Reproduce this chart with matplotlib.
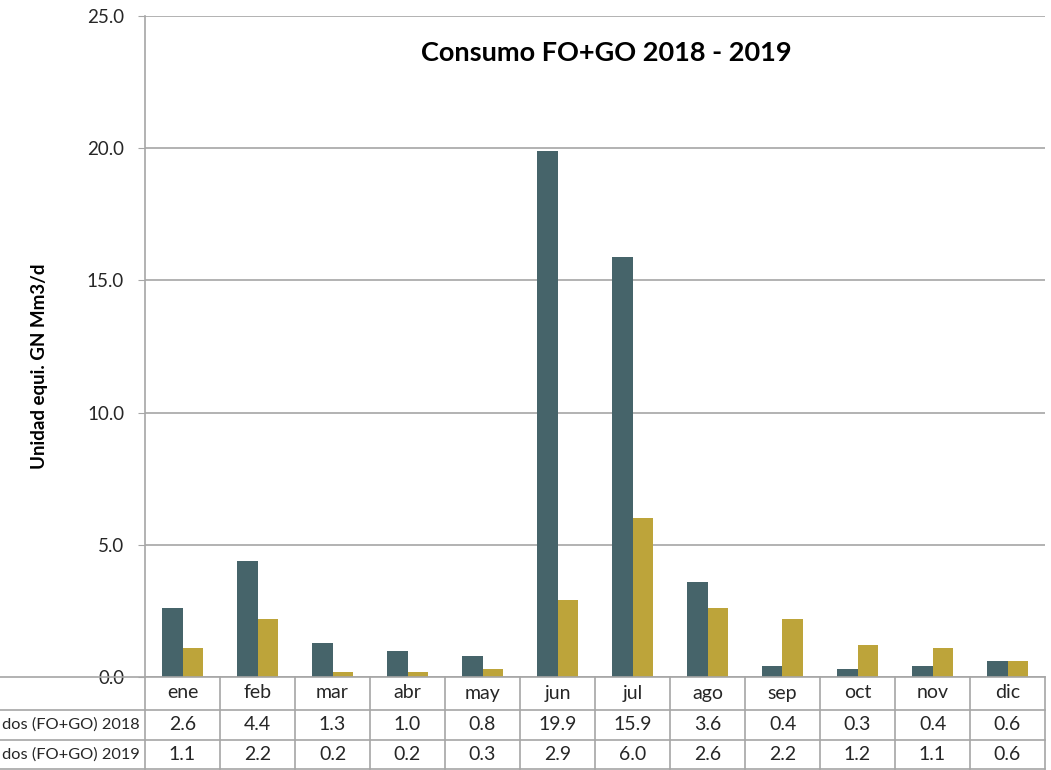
import numpy as np
import matplotlib.pyplot as plt
from matplotlib.ticker import FormatStrFormatter

plt.rcParams['font.family'] = ['Lato', 'DejaVu Sans']

meses = ['ene', 'feb', 'mar', 'abr', 'may', 'jun',
         'jul', 'ago', 'sep', 'oct', 'nov', 'dic']
consumo_2018 = [2.6, 4.4, 1.3, 1.0, 0.8, 19.9, 15.9, 3.6, 0.4, 0.3, 0.4, 0.6]
consumo_2019 = [1.1, 2.2, 0.2, 0.2, 0.3, 2.9, 6.0, 2.6, 2.2, 1.2, 1.1, 0.6]
etiquetas = ['dos (FO+GO) 2018', 'dos (FO+GO) 2019']

C18 = '#46646a'
C19 = '#bda43a'
GRID = '#a6a6a6'
TXT = '#262626'

fig = plt.figure(figsize=(10.51, 7.70), dpi=100)
ax = fig.add_axes([145/1051, 93/770, 900/1051, 661/770])

x = np.arange(len(meses))
w = 0.275
ax.bar(x - w/2, consumo_2018, w, color=C18, zorder=3)
ax.bar(x + w/2, consumo_2019, w, color=C19, zorder=3)

ax.set_xlim(-0.5, 11.5)
ax.set_ylim(0, 25)
ax.set_yticks(np.arange(0, 26, 5))
ax.yaxis.set_major_formatter(FormatStrFormatter('%.1f'))
ax.grid(axis='y', color=GRID, lw=1.2, zorder=0)
ax.set_xticks([])
for s in ['top', 'right', 'bottom']:
    ax.spines[s].set_visible(False)
ax.spines['left'].set_color(GRID)
ax.spines['left'].set_linewidth(1.2)
ax.tick_params(axis='y', length=5, color=GRID, labelsize=13.5, labelcolor=TXT, pad=10)
ax.set_ylabel('Unidad equi. GN Mm3/d', fontsize=13.5, fontweight='bold')
ax.yaxis.set_label_coords(-0.108, 0.47)
ax.set_title('Consumo FO+GO 2018 - 2019', fontsize=19.5, fontweight='bold', x=0.513, y=0.92)

# tabla de datos bajo el grafico
tb = fig.add_axes([145/1051, 0, 900/1051, 93/770])
tb.set_xlim(-0.5, 11.5)
tb.set_ylim(0, 93)
tb.axis('off')
for yy in [93, 60, 30, 1]:
    tb.plot([-3, 11.5], [yy, yy], color=GRID, lw=1.2, clip_on=False)
for xx in np.arange(-0.5, 12, 1):
    tb.plot([xx, xx], [1, 93], color=GRID, lw=1.2, clip_on=False)
for i, m in enumerate(meses):
    tb.text(i, 77, m, ha='center', va='center', fontsize=14, color=TXT)
    tb.text(i, 45, f'{consumo_2018[i]:.1f}', ha='center', va='center', fontsize=14, color=TXT)
    tb.text(i, 15, f'{consumo_2019[i]:.1f}', ha='center', va='center', fontsize=14, color=TXT)
# etiquetas de fila (recortadas en el original)
for yy, lab in zip([45, 15], etiquetas):
    fig.text(140/1051, yy/770, lab, ha='right', va='center', fontsize=11.8, color=TXT)

fig.savefig('out.png', dpi=100)
